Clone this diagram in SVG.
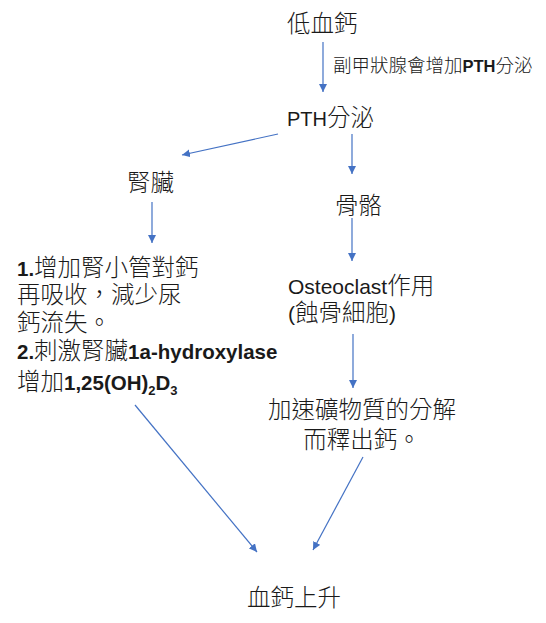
<svg xmlns="http://www.w3.org/2000/svg" width="546" height="623" viewBox="0 0 546 623">
<defs>
<marker id="ah" viewBox="0 0 10 10" refX="10" refY="5" markerWidth="8" markerHeight="8" markerUnits="userSpaceOnUse" orient="auto">
<path d="M0,0 L10,5 L0,10 z" fill="#4472C4"/>
</marker>
<style>
.cjk{font-family:"Noto Sans CJK TC","Noto Sans CJK SC",sans-serif;font-size:23.5px;fill:#1a1a1a;font-weight:300}
.lat{font-family:"Liberation Sans",Arial,sans-serif;font-size:20.5px}
.b{font-weight:bold}
.sub{font-size:13px}
.lbl{font-size:18.5px}
.conn line{stroke:#4472C4;stroke-width:1.2;marker-end:url(#ah)}
</style>
</defs>
<rect width="546" height="623" fill="#fff"/>
<g class="conn" id="connectors">
<line x1="323" y1="42" x2="323" y2="92"/>
<line x1="278" y1="134" x2="182" y2="155"/>
<line x1="352" y1="134" x2="352" y2="174"/>
<line x1="152" y1="202" x2="152" y2="243"/>
<line x1="352" y1="218" x2="352" y2="261"/>
<line x1="353" y1="334" x2="353" y2="388"/>
<line x1="135" y1="405" x2="257" y2="552"/>
<line x1="363" y1="457" x2="313" y2="550"/>
</g>
<g id="n-low"><text class="cjk" x="287" y="32">低血鈣</text></g>
<g id="e-label"><text class="cjk lbl" x="333" y="72">副甲狀腺會增加<tspan class="lat b" style="font-size:16.5px">PTH</tspan>分泌</text></g>
<g id="n-pth"><text class="cjk" x="287" y="126"><tspan class="lat" style="font-size:20px">PTH</tspan>分泌</text></g>
<g id="n-kidney"><text class="cjk" x="127" y="191">腎臟</text></g>
<g id="n-bone"><text class="cjk" x="335" y="214">骨骼</text></g>
<g id="n-kidney-effect">
<text class="cjk" x="17" y="276"><tspan class="lat b">1.</tspan>增加腎小管對鈣<tspan x="17" y="303">再吸收，減少尿</tspan><tspan x="17" y="331">鈣流失。</tspan><tspan x="17" y="359" class="lat b">2.</tspan>刺激腎臟<tspan class="lat b">1a-hydroxylase</tspan><tspan x="17" y="390">增加</tspan><tspan class="lat b">1,25(OH)</tspan><tspan class="lat b sub" dy="5">2</tspan><tspan class="lat b" dy="-5">D</tspan><tspan class="lat b sub" dy="5">3</tspan></text>
</g>
<g id="n-osteoclast">
<text class="cjk" x="288" y="294"><tspan class="lat" style="font-size:21px">Osteoclast</tspan>作用<tspan x="288" y="321" class="lat" style="font-size:21px">(</tspan>蝕骨細胞<tspan class="lat" style="font-size:21px">)</tspan></text>
</g>
<g id="n-mineral">
<text class="cjk" x="362" y="418" text-anchor="middle">加速礦物質的分解<tspan x="362" y="448">而釋出鈣。</tspan></text>
</g>
<g id="n-rise"><text class="cjk" x="247" y="606">血鈣上升</text></g>
</svg>
